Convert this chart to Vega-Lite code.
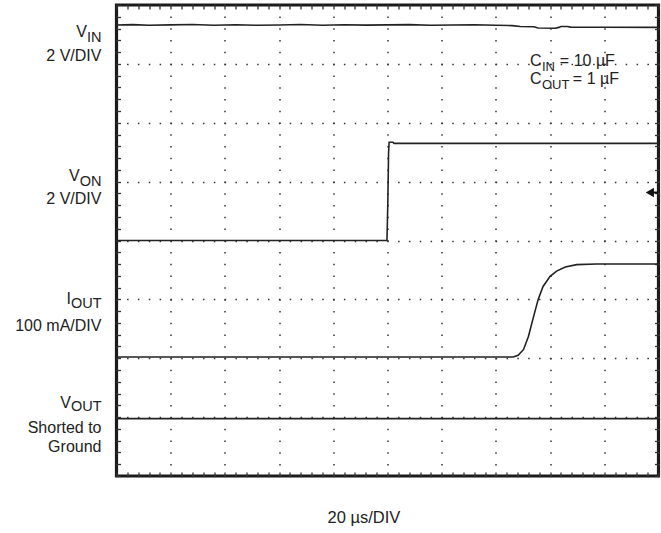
{
  "$schema": "https://vega.github.io/schema/vega-lite/v6.json",
  "width": 542,
  "height": 471,
  "autosize": "none",
  "padding": {"left": 116.5, "top": 5, "right": 2.5, "bottom": 57},
  "background": "white",
  "config": {
    "view": {"stroke": "#1a1a1a", "strokeWidth": 3.2},
    "font": "Liberation Sans"
  },
  "resolve": {"axis": {"x": "independent", "y": "independent"}},
  "datasets": {
    "traces": [
      {"series": "VIN", "x": 0, "y": 7.66},
      {"series": "VIN", "x": 0.3, "y": 7.667},
      {"series": "VIN", "x": 0.6, "y": 7.655},
      {"series": "VIN", "x": 1.0, "y": 7.662},
      {"series": "VIN", "x": 1.4, "y": 7.67},
      {"series": "VIN", "x": 1.8, "y": 7.655},
      {"series": "VIN", "x": 2.2, "y": 7.665},
      {"series": "VIN", "x": 2.6, "y": 7.655},
      {"series": "VIN", "x": 3.0, "y": 7.66},
      {"series": "VIN", "x": 3.4, "y": 7.668},
      {"series": "VIN", "x": 3.8, "y": 7.655},
      {"series": "VIN", "x": 4.2, "y": 7.665},
      {"series": "VIN", "x": 4.6, "y": 7.658},
      {"series": "VIN", "x": 5.0, "y": 7.662},
      {"series": "VIN", "x": 5.4, "y": 7.666},
      {"series": "VIN", "x": 5.8, "y": 7.655},
      {"series": "VIN", "x": 6.2, "y": 7.66},
      {"series": "VIN", "x": 6.6, "y": 7.665},
      {"series": "VIN", "x": 7.0, "y": 7.655},
      {"series": "VIN", "x": 7.3, "y": 7.65},
      {"series": "VIN", "x": 7.45, "y": 7.635},
      {"series": "VIN", "x": 7.7, "y": 7.63},
      {"series": "VIN", "x": 7.78, "y": 7.61},
      {"series": "VIN", "x": 8.1, "y": 7.605},
      {"series": "VIN", "x": 8.16, "y": 7.62},
      {"series": "VIN", "x": 8.2, "y": 7.635},
      {"series": "VIN", "x": 8.32, "y": 7.635},
      {"series": "VIN", "x": 8.38, "y": 7.625},
      {"series": "VIN", "x": 9.0, "y": 7.622},
      {"series": "VIN", "x": 10, "y": 7.62},
      {"series": "VON", "x": 0, "y": 4.0},
      {"series": "VON", "x": 4.99, "y": 4.0},
      {"series": "VON", "x": 5.005, "y": 4.6},
      {"series": "VON", "x": 5.02, "y": 5.5},
      {"series": "VON", "x": 5.03, "y": 5.67},
      {"series": "VON", "x": 5.1, "y": 5.67},
      {"series": "VON", "x": 5.12, "y": 5.65},
      {"series": "VON", "x": 10, "y": 5.65},
      {"series": "IOUT", "x": 0, "y": 2.02},
      {"series": "IOUT", "x": 7.32, "y": 2.02},
      {"series": "IOUT", "x": 7.41, "y": 2.05},
      {"series": "IOUT", "x": 7.51, "y": 2.15},
      {"series": "IOUT", "x": 7.6, "y": 2.37},
      {"series": "IOUT", "x": 7.69, "y": 2.69},
      {"series": "IOUT", "x": 7.78, "y": 3.0},
      {"series": "IOUT", "x": 7.87, "y": 3.22},
      {"series": "IOUT", "x": 8.0, "y": 3.39},
      {"series": "IOUT", "x": 8.12, "y": 3.48},
      {"series": "IOUT", "x": 8.28, "y": 3.55},
      {"series": "IOUT", "x": 8.49, "y": 3.59},
      {"series": "IOUT", "x": 8.86, "y": 3.6},
      {"series": "IOUT", "x": 10, "y": 3.6},
      {"series": "VOUT", "x": 0, "y": 0.975},
      {"series": "VOUT", "x": 10, "y": 0.975}
    ],
    "leftLabels": [
      {"role": "main", "x": -0.544, "y": 7.457, "text": "V"},
      {"role": "sub", "x": -0.277, "y": 7.38, "text": "IN"},
      {"role": "main", "x": -0.277, "y": 7.045, "text": "2 V/DIV"},
      {"role": "main", "x": -0.678, "y": 5.019, "text": "V"},
      {"role": "sub", "x": -0.277, "y": 4.934, "text": "ON"},
      {"role": "main", "x": -0.277, "y": 4.628, "text": "2 V/DIV"},
      {"role": "main", "x": -0.84, "y": 2.913, "text": "I"},
      {"role": "sub", "x": -0.277, "y": 2.853, "text": "OUT"},
      {"role": "main", "x": -0.277, "y": 2.463, "text": "100 mA/DIV"},
      {"role": "main", "x": -0.84, "y": 1.158, "text": "V"},
      {"role": "sub", "x": -0.277, "y": 1.1, "text": "OUT"},
      {"role": "main", "x": -0.277, "y": 0.734, "text": "Shorted to"},
      {"role": "main", "x": -0.277, "y": 0.404, "text": "Ground"}
    ],
    "annotations": [
      {"role": "main", "x": 7.63, "y": 6.96, "text": "C"},
      {"role": "sub", "x": 7.85, "y": 6.876, "text": "IN"},
      {"role": "main", "x": 8.18, "y": 6.96, "text": "= 10 µF"},
      {"role": "main", "x": 7.63, "y": 6.65, "text": "C"},
      {"role": "sub", "x": 7.85, "y": 6.565, "text": "OUT"},
      {"role": "main", "x": 8.42, "y": 6.65, "text": "= 1 µF"}
    ],
    "title": [
      {"x": 4.566, "y": -0.79, "text": "20 µs/DIV"}
    ],
    "marker": [
      {"x": 9.84, "x2": 9.99, "y": 4.815}
    ]
  },
  "layer": [
    {
      "data": {"name": "traces"},
      "mark": {"type": "line", "color": "#222", "strokeWidth": 1.6},
      "encoding": {
        "x": {"field": "x", "type": "quantitative", "scale": {"domain": [0, 10], "nice": false, "zero": false},
          "axis": {"orient": "bottom", "values": [0,1,2,3,4,5,6,7,8,9,10], "grid": true, "gridDash": [1.5, 10.275], "gridDashOffset": 0.75, "gridColor": "#333", "gridWidth": 1.5, "gridOpacity": 1, "ticks": false, "labels": false, "domain": false, "title": null}},
        "y": {"field": "y", "type": "quantitative", "scale": {"domain": [0, 8], "nice": false, "zero": false},
          "axis": {"orient": "left", "values": [0,1,2,3,4,5,6,7,8], "grid": true, "gridDash": [1.5, 9.34], "gridDashOffset": 0.75, "gridColor": "#333", "gridWidth": 1.5, "gridOpacity": 1, "ticks": false, "labels": false, "domain": false, "title": null}},
        "detail": {"field": "series", "type": "nominal"}
      }
    },
    {
      "data": {"name": "leftLabels"},
      "transform": [{"filter": "datum.role == 'main'"}],
      "mark": {"type": "text", "align": "right", "baseline": "alphabetic", "fontSize": 16, "color": "#222"},
      "encoding": {
        "x": {"field": "x", "type": "quantitative", "scale": {"domain": [0, 10], "nice": false, "zero": false},
          "axis": {"orient": "bottom", "values": [0,0.2,0.4,0.6,0.8,1,1.2,1.4,1.6,1.8,2,2.2,2.4,2.6,2.8,3,3.2,3.4,3.6,3.8,4,4.2,4.4,4.6,4.8,5,5.2,5.4,5.6,5.8,6,6.2,6.4,6.6,6.8,7,7.2,7.4,7.6,7.8,8,8.2,8.4,8.6,8.8,9,9.2,9.4,9.6,9.8,10], "grid": false, "ticks": true, "tickSize": -4, "tickColor": "#333", "tickWidth": 1.3, "labels": false, "domain": false, "title": null}},
        "y": {"field": "y", "type": "quantitative", "scale": {"domain": [0, 8], "nice": false, "zero": false},
          "axis": {"orient": "left", "values": [0,0.2,0.4,0.6,0.8,1,1.2,1.4,1.6,1.8,2,2.2,2.4,2.6,2.8,3,3.2,3.4,3.6,3.8,4,4.2,4.4,4.6,4.8,5,5.2,5.4,5.6,5.8,6,6.2,6.4,6.6,6.8,7,7.2,7.4,7.6,7.8,8], "grid": false, "ticks": true, "tickSize": -4, "tickColor": "#333", "tickWidth": 1.3, "labels": false, "domain": false, "title": null}},
        "text": {"field": "text"}
      }
    },
    {
      "data": {"name": "leftLabels"},
      "transform": [{"filter": "datum.role == 'sub'"}],
      "mark": {"type": "text", "align": "right", "baseline": "alphabetic", "fontSize": 14.5, "color": "#222"},
      "encoding": {
        "x": {"field": "x", "type": "quantitative", "scale": {"domain": [0, 10], "nice": false, "zero": false},
          "axis": {"orient": "top", "values": [0,0.2,0.4,0.6,0.8,1,1.2,1.4,1.6,1.8,2,2.2,2.4,2.6,2.8,3,3.2,3.4,3.6,3.8,4,4.2,4.4,4.6,4.8,5,5.2,5.4,5.6,5.8,6,6.2,6.4,6.6,6.8,7,7.2,7.4,7.6,7.8,8,8.2,8.4,8.6,8.8,9,9.2,9.4,9.6,9.8,10], "grid": false, "ticks": true, "tickSize": -4, "tickColor": "#333", "tickWidth": 1.3, "labels": false, "domain": false, "title": null}},
        "y": {"field": "y", "type": "quantitative", "scale": {"domain": [0, 8], "nice": false, "zero": false},
          "axis": {"orient": "right", "values": [0,0.2,0.4,0.6,0.8,1,1.2,1.4,1.6,1.8,2,2.2,2.4,2.6,2.8,3,3.2,3.4,3.6,3.8,4,4.2,4.4,4.6,4.8,5,5.2,5.4,5.6,5.8,6,6.2,6.4,6.6,6.8,7,7.2,7.4,7.6,7.8,8], "grid": false, "ticks": true, "tickSize": -4, "tickColor": "#333", "tickWidth": 1.3, "labels": false, "domain": false, "title": null}},
        "text": {"field": "text"}
      }
    },
    {
      "data": {"name": "annotations"},
      "transform": [{"filter": "datum.role == 'main'"}],
      "mark": {"type": "text", "align": "left", "baseline": "alphabetic", "fontSize": 16, "color": "#222"},
      "encoding": {
        "x": {"field": "x", "type": "quantitative", "axis": null},
        "y": {"field": "y", "type": "quantitative", "axis": null},
        "text": {"field": "text"}
      }
    },
    {
      "data": {"name": "annotations"},
      "transform": [{"filter": "datum.role == 'sub'"}],
      "mark": {"type": "text", "align": "left", "baseline": "alphabetic", "fontSize": 13, "color": "#222"},
      "encoding": {
        "x": {"field": "x", "type": "quantitative", "axis": null},
        "y": {"field": "y", "type": "quantitative", "axis": null},
        "text": {"field": "text"}
      }
    },
    {
      "data": {"name": "title"},
      "mark": {"type": "text", "align": "center", "baseline": "alphabetic", "fontSize": 16.5, "color": "#222"},
      "encoding": {
        "x": {"field": "x", "type": "quantitative", "axis": null},
        "y": {"field": "y", "type": "quantitative", "axis": null},
        "text": {"field": "text"}
      }
    },
    {
      "data": {"name": "marker"},
      "mark": {"type": "rule", "color": "#111", "strokeWidth": 2},
      "encoding": {
        "x": {"field": "x", "type": "quantitative", "axis": null},
        "x2": {"field": "x2"},
        "y": {"field": "y", "type": "quantitative", "axis": null}
      }
    },
    {
      "data": {"name": "marker"},
      "mark": {"type": "point", "shape": "triangle-left", "filled": true, "color": "#111", "size": 90, "opacity": 1},
      "encoding": {
        "x": {"field": "x", "type": "quantitative", "axis": null},
        "y": {"field": "y", "type": "quantitative", "axis": null}
      }
    }
  ]
}
